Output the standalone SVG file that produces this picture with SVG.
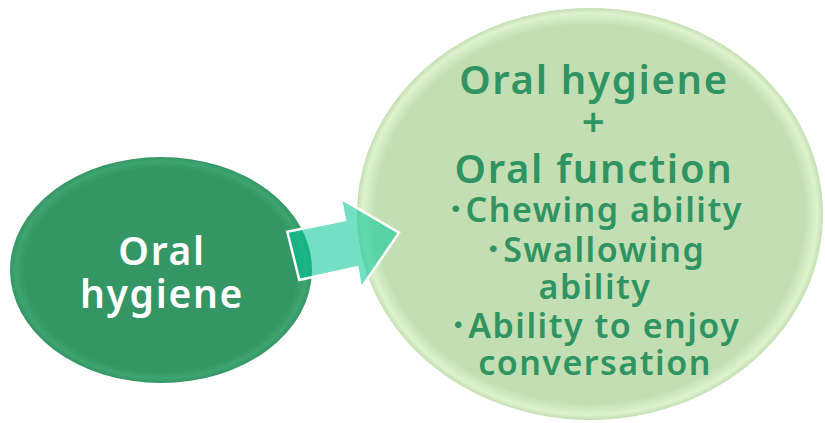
<svg xmlns="http://www.w3.org/2000/svg" width="825" height="423" viewBox="0 0 825 423">
<defs>
<radialGradient id="rimDark" cx="0.5" cy="0.5" r="0.5">
<stop offset="0.9" stop-color="#349664"/>
<stop offset="0.96" stop-color="#3DA472"/>
<stop offset="1" stop-color="#349664"/>
</radialGradient>
<radialGradient id="rimLight" cx="0.5" cy="0.5" r="0.5">
<stop offset="0.92" stop-color="#C4DEB3"/>
<stop offset="0.975" stop-color="#DDF2CD"/>
<stop offset="1" stop-color="#C4DEB3"/>
</radialGradient>
</defs>
<style>
.t{font-family:"Noto Sans","Noto Sans CJK JP",sans-serif;font-weight:600;text-anchor:middle}
.w{fill:#ffffff;letter-spacing:1.7px}
.g{fill:#2F9462}
.h{font-size:40px;letter-spacing:1.7px}
.s{font-size:34px;letter-spacing:1.5px}
</style>
<g id="node-oral-hygiene">
<ellipse cx="161" cy="270" rx="151" ry="113" fill="url(#rimDark)"/>
<text class="t w" x="162" y="265" font-size="39">Oral</text>
<text class="t w" x="162" y="308" font-size="39">hygiene</text>
</g>
<g id="node-oral-function">
<ellipse cx="590" cy="214" rx="233" ry="206" fill="url(#rimLight)"/>
<text class="t g h" x="594" y="94">Oral hygiene</text>
<text class="t g h" x="594" y="136">+</text>
<text class="t g h" x="594" y="183">Oral function</text>
<text class="t g s" x="595" y="222">･Chewing ability</text>
<text class="t g s" x="595" y="262">･Swallowing</text>
<text class="t g s" x="595" y="299">ability</text>
<text class="t g s" x="595" y="338">･Ability to enjoy</text>
<text class="t g s" x="595" y="375">conversation</text>
</g>
<g id="connectors">
<polygon points="287.3,231.7 345,220 340.7,198.3 399,232.7 361,288.3 357.3,267.3 299.3,280" fill="#00C697" fill-opacity="0.55" stroke="#ffffff" stroke-width="2.5" stroke-linejoin="miter"/>
</g>
</svg>
